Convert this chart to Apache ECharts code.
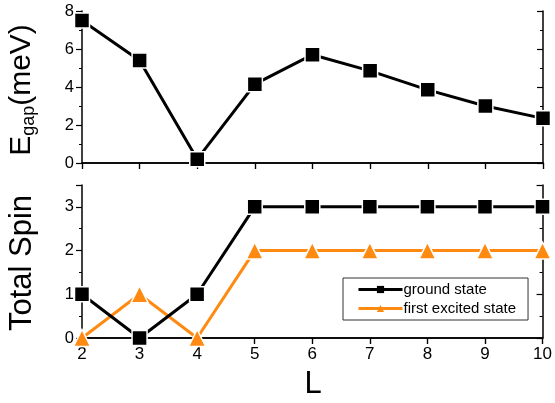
<!DOCTYPE html>
<html>
<head>
<meta charset="utf-8">
<script src="https://cdn.jsdelivr.net/npm/echarts@6/dist/echarts.min.js"></script>
<style>
  html, body { margin: 0; padding: 0; background: #fff; }
  #chart { width: 555px; height: 403px; }
</style>
</head>
<body>
<div id="chart"></div>
<script>
// chain length L
const sizes = [2, 3, 4, 5, 6, 7, 8, 9, 10];
// energy gap (meV), top panel
const gapValues = [7.5, 5.4, 0.2, 4.15, 5.7, 4.85, 3.85, 3.0, 2.35];
// total spin, bottom panel
const groundSpin = [1, 0, 1, 3, 3, 3, 3, 3, 3];
const excitedSpin = [0, 1, 0, 2, 2, 2, 2, 2, 2];

const orange = '#ff8a12';
const font = 'Liberation Sans, Arial, sans-serif';

function pairs(ys) {
  return sizes.map((x, i) => [x, ys[i]]);
}

const frameLine = { show: true, lineStyle: { color: '#000', width: 1.5 } };

function xAx(grid, pos, showLabels, inside) {
  return {
    type: 'value', gridIndex: grid, position: pos,
    min: 2, max: 10, interval: 1,
    axisLine: frameLine,
    axisTick: { show: true, inside: inside, length: 6, lineStyle: { color: '#000', width: 1.2 } },
    axisLabel: { show: showLabels, color: '#000', fontSize: 17, fontFamily: font, margin: 8 },
    splitLine: { show: false }
  };
}

function yAx(grid, pos, max, interval, showLabels, inside) {
  return {
    type: 'value', gridIndex: grid, position: pos,
    min: 0, max: max, interval: interval,
    axisLine: frameLine,
    axisTick: { show: true, inside: inside, length: 6, lineStyle: { color: '#000', width: 1.2 } },
    minorTick: { show: true, splitNumber: 2, length: 3, lineStyle: { color: '#000', width: 1 } },
    axisLabel: {
      show: showLabels, color: '#000', fontSize: 16.5, fontFamily: font, margin: 8,
      formatter: v => (v % 1 === 0 ? String(v) : '')
    },
    splitLine: { show: false }
  };
}

const chart = echarts.init(document.getElementById('chart'));
chart.setOption({
  animation: false,
  backgroundColor: '#fff',
  grid: [
    { left: 82, right: 12, top: 11, height: 152 },
    { left: 82, right: 12, top: 185, height: 153 }
  ],
  xAxis: [
    xAx(0, 'bottom', false, false),
    xAx(0, 'top', false, true),
    xAx(1, 'bottom', true, false),
    xAx(1, 'top', false, true)
  ],
  yAxis: [
    yAx(0, 'left', 8, 2, true, false),
    yAx(0, 'right', 8, 2, false, true),
    yAx(1, 'left', 3.5, 1, true, false),
    yAx(1, 'right', 3.5, 1, false, true)
  ],
  legend: {
    data: ['ground state', 'first excited state'],
    orient: 'vertical',
    left: 343, top: 278,
    padding: [4, 12, 4, 14],
    itemGap: 4,
    itemWidth: 44, itemHeight: 9,
    borderColor: '#333', borderWidth: 1,
    lineStyle: { width: 3 },
    itemStyle: { borderWidth: 0 },
    textStyle: { color: '#000', fontSize: 15, fontFamily: font, padding: [0, 0, 0, -4] }
  },
  graphic: [
    {
      type: 'text', x: 22, y: 90, rotation: Math.PI / 2, z: 10,
      style: {
        text: '{big|E}{sub|gap}{big|(meV)}',
        align: 'center', verticalAlign: 'middle',
        rich: {
          big: { fontSize: 30, fontFamily: font, fill: '#000' },
          sub: { fontSize: 18, fontFamily: font, fill: '#000', verticalAlign: 'bottom', padding: [14, 0, 0, 0] }
        }
      }
    },
    {
      type: 'text', x: 22, y: 263, rotation: Math.PI / 2, z: 10,
      style: {
        text: 'Total Spin', fontSize: 31, fontFamily: font, fill: '#000',
        align: 'center', verticalAlign: 'middle'
      }
    },
    {
      type: 'text', x: 313, y: 384, z: 10,
      style: {
        text: 'L', fontSize: 31, fontFamily: font, fill: '#000',
        align: 'center', verticalAlign: 'middle'
      }
    }
  ],
  series: [
    {
      name: 'gap', type: 'line', xAxisIndex: 0, yAxisIndex: 0,
      data: pairs(gapValues),
      symbol: 'rect', symbolSize: 15, showAllSymbol: true,
      lineStyle: { color: '#000', width: 3 },
      itemStyle: { color: '#000', borderColor: '#fff', borderWidth: 1.5 },
      clip: false
    },
    {
      name: 'ground state', type: 'line', xAxisIndex: 2, yAxisIndex: 2,
      data: pairs(groundSpin),
      symbol: 'rect', symbolSize: 15,
      lineStyle: { color: '#000', width: 3 },
      itemStyle: { color: '#000', borderColor: '#fff', borderWidth: 1.5 },
      z: 3,
      clip: false
    },
    {
      name: 'first excited state', type: 'line', xAxisIndex: 2, yAxisIndex: 2,
      data: pairs(excitedSpin),
      symbol: 'triangle', symbolSize: 17,
      lineStyle: { color: orange, width: 3 },
      itemStyle: { color: orange, borderColor: '#fff', borderWidth: 1.5 },
      z: 2,
      clip: false
    }
  ]
});
</script>
</body>
</html>
